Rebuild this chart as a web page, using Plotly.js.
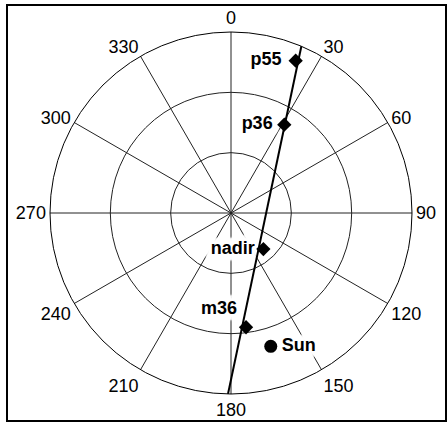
<!DOCTYPE html>
<html>
<head>
<meta charset="utf-8">
<script src="https://cdn.plot.ly/plotly-3.0.1.min.js"></script>
<style>html,body{margin:0;padding:0;background:#fff;}#chart{width:447px;height:423px;}</style>
</head>
<body>
<div id="chart"></div>
<script>
// View directions (azimuth deg, zenith deg)
const viewNames = ['p55', 'p36', 'nadir', 'm36'];
const viewAzimuth = [23.0, 31.1, 138.1, 172.5];
const viewZenith = [82.3, 51.3, 24.1, 57.3];

const sunName = ['Sun'];
const sunAzimuth = [163.4];
const sunZenith = [69.2];

// Fitted track line endpoints
const trackAzimuth = [22.5, 181.3];
const trackZenith = [93.2, 92.9];

const angTicks = [0, 30, 60, 90, 120, 150, 180, 210, 240, 270, 300, 330];
const radTicks = [30, 60, 90];

// label placement styles
const labelNames = viewNames.concat(sunName);
const labelAzimuth = viewAzimuth.concat(sunAzimuth);
const labelZenith = viewZenith.concat(sunZenith);
const labelPos = ['middle left', 'middle left', 'middle left', 'top left', 'middle right'];
const labelGap = [21, 17, 12, 13, 16];

function halo() {
  const s = [];
  const offs = [[0,0],[3,0],[-3,0],[0,3],[0,-3],[3,3],[-3,3],[3,-3],[-3,-3],
                [6,0],[-6,0],[0,6],[0,-6],[6,4],[-6,4],[6,-4],[-6,-4],[4,6],[-4,6],[4,-6],[-4,-6]];
  offs.forEach(o => s.push('#fff ' + o[0] + 'px ' + o[1] + 'px 2px'));
  return s.join(', ');
}

const labelFont = {family: 'Liberation Sans, Arial, sans-serif', size: 18, color: '#000', weight: 'bold', shadow: halo()};

const traces = [
  {
    type: 'scatterpolar', mode: 'markers+text',
    r: labelZenith, theta: labelAzimuth, text: labelNames,
    textposition: labelPos, textfont: labelFont,
    marker: {size: labelGap, color: 'rgba(0,0,0,0)', opacity: 0},
    cliponaxis: false, showlegend: false, hoverinfo: 'skip'
  },
  {
    type: 'scatterpolar', mode: 'lines',
    r: trackZenith, theta: trackAzimuth,
    line: {color: '#000', width: 2},
    cliponaxis: false, showlegend: false, hoverinfo: 'skip'
  },
  {
    type: 'scatterpolar', mode: 'markers',
    r: viewZenith, theta: viewAzimuth,
    marker: {symbol: 'diamond', size: 11, color: '#000'},
    cliponaxis: false, showlegend: false
  },
  {
    type: 'scatterpolar', mode: 'markers',
    r: sunZenith, theta: sunAzimuth,
    marker: {symbol: 'circle', size: 13, color: '#000'},
    cliponaxis: false, showlegend: false
  }
];

const layout = {
  width: 447, height: 423,
  margin: {l: 0, r: 0, t: 0, b: 0},
  paper_bgcolor: '#fff',
  showlegend: false,
  font: {family: 'Liberation Sans, Arial, sans-serif', size: 18, color: '#000'},
  polar: {
    domain: {x: [50/447, 412/447], y: [29/423, 391/423]},
    bgcolor: 'rgba(0,0,0,0)',
    angularaxis: {
      rotation: 90, direction: 'clockwise',
      tickmode: 'array', tickvals: angTicks, ticktext: angTicks.map(String),
      showline: true, linecolor: '#000', linewidth: 1,
      showgrid: true, gridcolor: '#222', gridwidth: 1,
      ticks: '', tickfont: {size: 18, color: '#000'}
    },
    radialaxis: {
      range: [0, 90], tickmode: 'array', tickvals: radTicks,
      showticklabels: false, ticks: '', showline: false,
      showgrid: true, gridcolor: '#222', gridwidth: 1
    }
  },
  shapes: [
    {type: 'rect', xref: 'paper', yref: 'paper',
     x0: 7/447, x1: 446/447, y0: 1 - 421/423, y1: 1 - 5/423,
     line: {color: '#000', width: 2}, fillcolor: 'rgba(0,0,0,0)'}
  ]
};

Plotly.newPlot('chart', traces, layout, {displayModeBar: false, staticPlot: true});
</script>
</body>
</html>
